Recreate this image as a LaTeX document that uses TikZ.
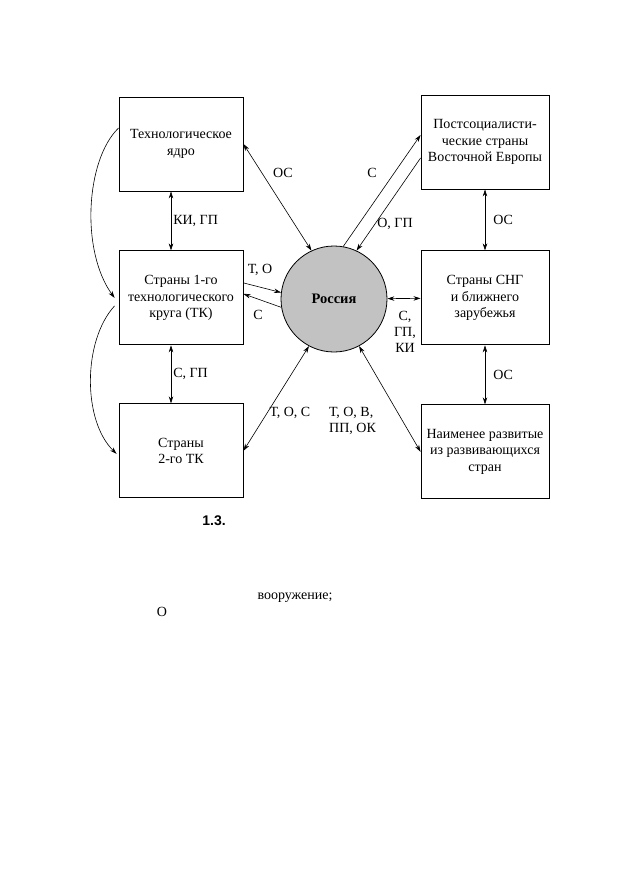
\documentclass[tikz,border=0pt]{standalone}
\usepackage{fontspec}
\setmainfont{Liberation Serif}
\newfontfamily\capfont{Liberation Sans}
\usetikzlibrary{arrows.meta, positioning}
\tikzset{
    block/.style={
        rectangle, draw, line width=0.9pt,
        minimum width=124pt, minimum height=94pt,
        inner sep=2pt, align=center,
        font=\fontsize{14}{16.5}\selectfont
    },
    hub/.style={
        circle, draw, line width=0.8pt,
        fill=black!24,
        minimum size=106pt, inner sep=0pt,
        font=\bfseries\fontsize{14.5}{16.5}\selectfont
    },
    conn/.style={
        line width=0.6pt,
        -{Stealth[length=7pt, width=4.5pt]},
    },
    dconn/.style={
        line width=0.6pt,
        {Stealth[length=7pt, width=4.5pt]}-{Stealth[length=7pt, width=4.5pt]},
    },
    lbl/.style={inner sep=1pt, align=center, font=\fontsize{14}{16}\selectfont},
}

\begin{document}
\begin{tikzpicture}[x=1pt, y=-1pt]
    \useasboundingbox (0,0) rectangle (632,894);
    % Left column
    \node[block] (core) at (181,144) {Технологическое\\ядро};
    \node[block, below=59pt of core] (first) {Страны 1-го\\технологического\\круга (ТК)};
    \node[block, below=58pt of first] (second) {Страны\\2-го ТК};
    % Right column
    \node[block, minimum width=128pt] (east) at (485,142) {Постсоциалисти-\\ческие страны\\Восточной Европы};
    \node[block, minimum width=128pt, below=61pt of east] (cis) {Страны СНГ\\и ближнего\\зарубежья};
    \node[block, minimum width=128pt, below=59pt of cis] (least) {Наименее развитые\\из развивающихся\\стран};
    % Centre
    \node[hub] (ru) at (334,299) {Россия};

    % Links
    \draw[dconn] (core.east) -- (ru.115);
    \draw[dconn] ([xshift=-10pt]core.south) -- node[lbl, midway, right=1pt] {КИ, ГП} ([xshift=-10pt]first.north);
    \draw[dconn] ([xshift=-10pt]first.south) -- node[lbl, midway, right=1pt] {С, ГП} ([xshift=-10pt]second.north);
    \draw[conn] ([yshift=15pt]first.east) -- (ru.173);
    \draw[conn] (ru.189) -- ([yshift=4pt]first.east);
    \draw[dconn] (second.east) -- (ru.242);
    \draw[conn] (ru.80) -- ([yshift=7pt]east.west);
    \draw[conn] ([yshift=-16pt]east.west) -- (ru.65);
    \draw[dconn] (east.south) -- node[lbl, midway, right=7pt] {ОС} (cis.north);
    \draw[dconn] (ru) -- (cis);
    \draw[dconn] (cis.south) -- node[lbl, midway, right=7pt] {ОС} (least.north);
    \draw[dconn] (ru.-62) -- (least.west);
    % Left bends
    \draw[conn] ([yshift=16pt]core.west) .. controls +(-33,32) and +(-34,-47) .. ([xshift=-4pt]first.west);
    \draw[conn] ([xshift=-4pt, yshift=-8pt]first.west) .. controls +(-32,35) and +(-34,-33) .. ([xshift=-2pt, yshift=-3pt]second.west);

    % Labels
    \node[lbl] (lOCcore) at (283,173) {ОС};
    \node[lbl] (lTO) at (260,270) {Т, О};
    \node[lbl] (lSfirst) at (258,315) {С};
    \node[lbl] (lSeast) at (372,173) {С};
    \node[lbl] (lOGP) at (395,224) {О, ГП};
    \node[lbl] (lSGPKI) at (405,332) {С,\\ГП,\\КИ};
    \node[lbl] (lTOC) at (290,413) {Т, О, С};
    \node[lbl, align=left, anchor=west] (lTOV) at (328,421) {Т, О, В,\\ПП, ОК};

    % Caption fragments
    \node[font=\capfont\bfseries\fontsize{14}{16}\selectfont] (fig) at (214,521) {1.3.};
    \node[lbl] (wpn) at (295,598) {вооружение;};
    \node[lbl] (olet) at (162,612) {О};
\end{tikzpicture}
\end{document}
